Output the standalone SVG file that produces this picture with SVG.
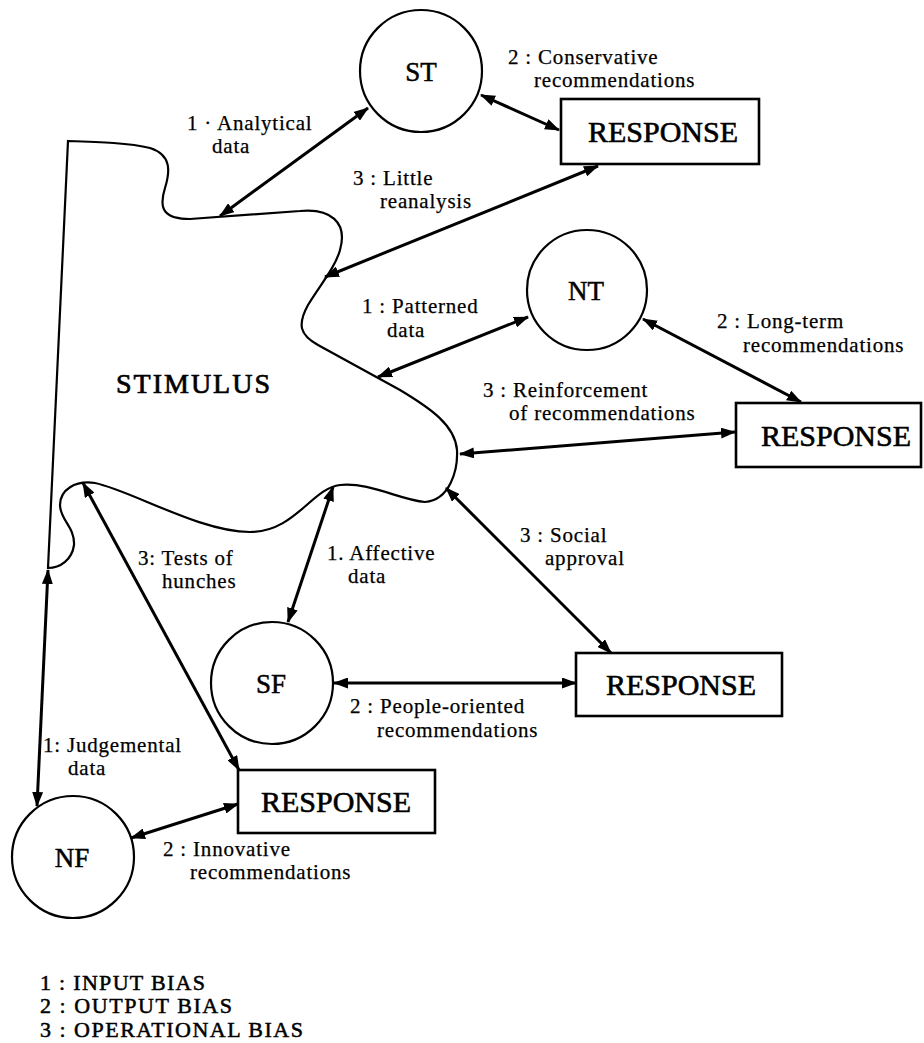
<svg xmlns="http://www.w3.org/2000/svg" width="924" height="1043" viewBox="0 0 924 1043">
<defs>
<marker id="ah" viewBox="0 0 15 11" refX="14" refY="5.5" markerWidth="15" markerHeight="11" markerUnits="userSpaceOnUse" orient="auto-start-reverse">
<path d="M0,0 L15,5.5 L0,11 z" fill="#000"/>
</marker>
</defs>
<style>
.node{fill:none;stroke:#000;stroke-width:2.2}
.box{fill:#fff;stroke:#000;stroke-width:2.6}
.big{font-family:"Liberation Serif","Times New Roman",serif;font-size:27px;text-anchor:middle;fill:#000;stroke:#000;stroke-width:0.5}
.resp{font-family:"Liberation Serif","Times New Roman",serif;font-size:30px;text-anchor:middle;fill:#000;stroke:#000;stroke-width:0.6}
.lbl{font-family:"Liberation Serif","Times New Roman",serif;font-size:21px;fill:#000;letter-spacing:0.8px;stroke:#000;stroke-width:0.25}
.leg{font-family:"Liberation Serif","Times New Roman",serif;font-size:22px;fill:#000;stroke:#000;stroke-width:0.5}
.con{stroke:#000;stroke-width:3;fill:none;marker-start:url(#ah);marker-end:url(#ah)}
</style>
<rect width="924" height="1043" fill="#fff"/>

<g id="stimulus">
<path class="node" d="M48,568 L68,141 C100,142 130,143 150,148 C172,155 170,172 165,188 C158,210 165,219 190,219 L300,211 C330,208 348,222 340,250 C335,268 320,285 308,305 C297,325 300,335 318,345 L400,390 C430,408 455,425 457,450 C458,470 450,500 425,502 C400,500 370,482 340,485 C312,488 295,532 250,532 C200,532 130,490 95,483 C75,480 60,490 60,505 C60,520 75,527 74,545 C72,560 60,568 48,568 Z"/>
<text class="big" x="194" y="393" style="font-size:28px;letter-spacing:2px;stroke-width:0.7">STIMULUS</text>
</g>

<g id="ST">
<circle class="node" cx="421" cy="71" r="61"/>
<text class="big" x="421" y="81">ST</text>
</g>
<g id="NT">
<circle class="node" cx="587" cy="290" r="60"/>
<text class="big" x="586" y="300">NT</text>
</g>
<g id="SF">
<circle class="node" cx="272" cy="683" r="61"/>
<text class="big" x="271" y="693">SF</text>
</g>
<g id="NF">
<circle class="node" cx="73" cy="857" r="61"/>
<text class="big" x="72" y="867">NF</text>
</g>

<g id="response1">
<rect class="box" x="561" y="99" width="198" height="65"/>
<text class="resp" x="663" y="142">RESPONSE</text>
</g>
<g id="response2">
<rect class="box" x="736" y="403" width="185" height="64"/>
<text class="resp" x="836" y="446">RESPONSE</text>
</g>
<g id="response3">
<rect class="box" x="576" y="653" width="206" height="63"/>
<text class="resp" x="681" y="695">RESPONSE</text>
</g>
<g id="response4">
<rect class="box" x="238" y="770" width="197" height="63"/>
<text class="resp" x="336" y="812">RESPONSE</text>
</g>

<g id="connectors">
<line class="con" x1="220" y1="216" x2="368" y2="108"/>
<line class="con" x1="481" y1="95" x2="559" y2="130"/>
<line class="con" x1="325" y1="277" x2="598" y2="166"/>
<line class="con" x1="378" y1="377" x2="528" y2="317"/>
<line class="con" x1="643" y1="319" x2="801" y2="402"/>
<line class="con" x1="460" y1="454" x2="735" y2="432"/>
<line class="con" x1="446" y1="488" x2="611" y2="653"/>
<line class="con" x1="333" y1="487" x2="288" y2="622"/>
<line class="con" x1="334" y1="683" x2="576" y2="683"/>
<line class="con" x1="83" y1="483" x2="239" y2="770"/>
<line class="con" x1="48" y1="570" x2="37" y2="806"/>
<line class="con" x1="131" y1="838" x2="238" y2="804"/>
</g>

<g id="labels">
<text class="lbl" x="187" y="130">1 · Analytical<tspan x="212" y="153">data</tspan></text>
<text class="lbl" x="508" y="64">2 : Conservative<tspan x="534" y="87">recommendations</tspan></text>
<text class="lbl" x="353" y="185">3 : Little<tspan x="380" y="208">reanalysis</tspan></text>
<text class="lbl" x="362" y="313">1 : Patterned<tspan x="387" y="337">data</tspan></text>
<text class="lbl" x="717" y="328">2 : Long-term<tspan x="743" y="352">recommendations</tspan></text>
<text class="lbl" x="483" y="397">3 : Reinforcement<tspan x="509" y="420">of recommendations</tspan></text>
<text class="lbl" x="520" y="542">3 : Social<tspan x="545" y="565">approval</tspan></text>
<text class="lbl" x="138" y="565">3: Tests of<tspan x="162" y="588">hunches</tspan></text>
<text class="lbl" x="327" y="560">1. Affective<tspan x="348" y="583">data</tspan></text>
<text class="lbl" x="350" y="713">2 : People-oriented<tspan x="377" y="737">recommendations</tspan></text>
<text class="lbl" x="43" y="752">1: Judgemental<tspan x="68" y="775">data</tspan></text>
<text class="lbl" x="163" y="856">2 : Innovative<tspan x="190" y="879">recommendations</tspan></text>
</g>

<g id="legend">
<text class="leg" x="40" y="990" textLength="165" lengthAdjust="spacing">1 : INPUT BIAS</text>
<text class="leg" x="40" y="1013" textLength="192" lengthAdjust="spacing">2 : OUTPUT BIAS</text>
<text class="leg" x="40" y="1037" textLength="263" lengthAdjust="spacing">3 : OPERATIONAL BIAS</text>
</g>
</svg>
